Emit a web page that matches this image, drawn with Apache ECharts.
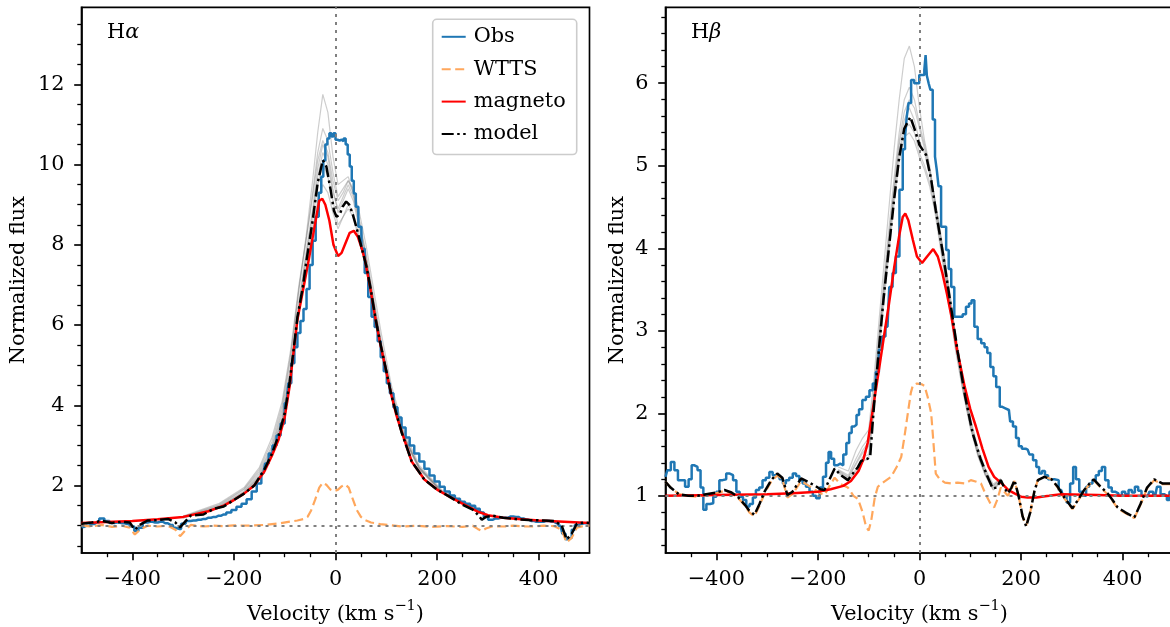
<!DOCTYPE html>
<html><head><meta charset="utf-8">
<script src="https://cdn.jsdelivr.net/npm/echarts@6/dist/echarts.min.js"></script>
<style>html,body{margin:0;padding:0;background:#fff}#c{width:1170px;height:627px}</style>
</head><body><div id="c"></div>
<script>
// ---------- DATA ----------
const seriesNames = ['Obs', 'WTTS', 'magneto', 'model'];
const panelTitles = ['α', 'β'];
const xTicks = [-400, -200, 0, 200, 400];
const yTicksHa = [2, 4, 6, 8, 10, 12];
const yTicksHb = [1, 2, 3, 4, 5, 6];
const refLevel = 1;
const refVel = 0;

// H-alpha
const haObs = [[-500,0.97],[-490,1.0],[-480,1.04],[-470,1.08],[-460,1.18],[-450,1.12],[-440,1.07],[-430,1.08],[-420,1.06],[-410,1.04],[-400,0.98],[-392,0.87],[-384,0.95],[-375,1.08],[-365,1.1],[-355,1.08],[-345,1.1],[-335,1.06],[-325,1.02],[-315,0.95],[-308,0.92],[-300,1.05],[-290,1.12],[-280,1.13],[-270,1.15],[-260,1.17],[-250,1.2],[-240,1.22],[-230,1.25],[-220,1.28],[-210,1.33],[-200,1.39],[-190,1.47],[-180,1.55],[-170,1.66],[-160,1.85],[-150,2.05],[-142,2.3],[-135,2.55],[-128,2.8],[-120,3.0],[-112,3.25],[-104,3.55],[-96,4.05],[-90,4.55],[-84,5.05],[-78,5.45],[-72,5.8],[-66,6.1],[-60,6.4],[-54,6.9],[-48,7.5],[-42,8.1],[-36,8.7],[-30,9.3],[-26,9.7],[-22,10.1],[-18,10.5],[-14,10.65],[-10,10.78],[-6,10.7],[-2,10.78],[2,10.62],[6,10.6],[10,10.62],[14,10.58],[18,10.65],[22,10.5],[26,10.25],[30,9.95],[34,9.6],[38,9.28],[42,8.95],[48,8.45],[54,7.9],[61,7.3],[68,6.7],[74,6.21],[80,5.95],[86,5.6],[92,5.2],[98,4.85],[104,4.55],[110,4.3],[118,3.95],[126,3.7],[134,3.45],[142,3.2],[150,3.0],[160,2.8],[170,2.6],[180,2.42],[190,2.25],[200,2.1],[210,1.97],[220,1.85],[230,1.75],[240,1.67],[250,1.6],[260,1.55],[270,1.5],[280,1.42],[288,1.33],[296,1.22],[305,1.15],[315,1.18],[325,1.2],[335,1.2],[345,1.23],[355,1.22],[365,1.18],[375,1.15],[385,1.12],[395,1.1],[405,1.1],[415,1.12],[425,1.1],[435,1.06],[443,1.0],[450,0.8],[456,0.66],[462,0.7],[468,0.9],[474,1.02],[482,1.05],[490,1.06],[500,1.05]];
const haWtts = [[-500,1.0],[-480,0.98],[-460,1.02],[-440,0.97],[-420,1.0],[-405,0.95],[-395,0.78],[-385,0.9],[-370,1.0],[-350,0.98],[-330,1.0],[-315,0.9],[-306,0.74],[-296,0.88],[-285,1.02],[-260,0.98],[-240,1.0],[-220,0.99],[-200,1.01],[-170,1.0],[-140,1.02],[-110,1.06],[-90,1.1],[-75,1.13],[-62,1.17],[-55,1.22],[-48,1.38],[-40,1.65],[-32,1.95],[-25,2.07],[-18,2.02],[-10,1.9],[-3,1.86],[5,1.9],[12,1.98],[19,2.03],[26,1.95],[33,1.7],[42,1.39],[50,1.22],[58,1.14],[70,1.08],[88,1.04],[110,1.01],[130,0.98],[160,1.0],[190,0.97],[220,0.99],[250,0.97],[270,1.0],[280,0.92],[288,0.87],[296,0.93],[310,0.99],[330,0.98],[350,1.0],[380,0.98],[410,1.0],[430,0.99],[445,0.9],[455,0.58],[465,0.7],[475,0.95],[490,1.0],[500,1.0]];
const haMagneto = [[-500,1.07],[-450,1.09],[-400,1.12],[-350,1.16],[-300,1.22],[-250,1.36],[-220,1.5],[-200,1.64],[-180,1.8],[-160,2.0],[-140,2.35],[-125,2.75],[-112,3.15],[-100,3.7],[-90,4.5],[-86,4.96],[-80,5.6],[-75,6.13],[-65,6.8],[-53,7.6],[-42,8.4],[-32,9.1],[-26,9.15],[-20,9.0],[-12,8.6],[-4,8.0],[5,7.72],[12,7.8],[20,8.05],[28,8.3],[36,8.35],[44,8.2],[52,7.9],[58,7.62],[68,6.95],[78,6.2],[87,5.6],[95,5.13],[110,4.25],[120,3.75],[130,3.35],[150,2.6],[175,2.15],[200,1.9],[225,1.72],[250,1.55],[280,1.35],[300,1.26],[330,1.2],[360,1.17],[400,1.13],[450,1.1],[500,1.07]];
const haModel = [[-500,1.05],[-480,1.08],[-460,1.12],[-440,1.07],[-420,1.1],[-405,1.08],[-395,0.9],[-385,1.02],[-370,1.13],[-350,1.14],[-330,1.17],[-315,1.08],[-306,0.96],[-296,1.1],[-285,1.25],[-260,1.28],[-240,1.42],[-220,1.48],[-200,1.64],[-180,1.8],[-160,2.0],[-140,2.4],[-125,2.8],[-112,3.25],[-100,3.8],[-90,4.6],[-80,5.65],[-75,6.2],[-65,6.9],[-57,7.62],[-45,8.6],[-35,9.55],[-25,10.11],[-18,9.95],[-10,9.4],[-3,8.85],[2,8.7],[8,8.75],[14,8.95],[21,9.08],[27,9.0],[33,8.8],[42,8.4],[50,8.0],[61,7.46],[70,6.85],[78,6.22],[87,5.62],[95,5.15],[110,4.25],[130,3.33],[150,2.6],[175,2.15],[200,1.9],[225,1.72],[250,1.52],[270,1.4],[280,1.28],[288,1.15],[296,1.22],[310,1.25],[330,1.2],[350,1.17],[380,1.14],[410,1.13],[430,1.12],[445,1.01],[455,0.66],[465,0.8],[475,1.05],[490,1.08],[500,1.07]];
const haGridVel = [-300,-230,-180,-150,-125,-105,-88,-72,-57,-45,-35,-25,-15,-5,5,15,25,35,47,60,75,90,110,135,165,210,300];
const haSamples = [
  [1.22,1.5,1.9,2.35,3.0,3.9,5.2,6.9,8.3,9.6,10.8,11.75,11.3,10.2,9.5,9.6,9.7,9.3,8.6,7.8,6.7,5.6,4.4,3.25,2.45,1.85,1.25],
  [1.23,1.52,1.92,2.4,3.1,4.0,5.3,6.9,8.2,9.3,10.3,10.9,10.6,9.8,9.2,9.4,9.6,9.3,8.6,7.7,6.6,5.5,4.35,3.2,2.45,1.85,1.25],
  [1.21,1.48,1.86,2.3,2.95,3.8,5.0,6.6,7.9,8.9,9.9,10.5,10.2,9.4,8.8,9.1,9.4,9.1,8.4,7.6,6.5,5.5,4.3,3.2,2.42,1.84,1.25],
  [1.2,1.46,1.84,2.25,2.9,3.7,4.9,6.5,7.8,8.8,9.7,10.3,10.0,9.3,8.9,9.2,9.5,9.2,8.5,7.7,6.6,5.55,4.35,3.25,2.45,1.85,1.26],
  [1.2,1.45,1.82,2.22,2.85,3.65,4.85,6.4,7.7,8.6,9.5,10.0,9.7,9.1,8.5,8.7,8.9,8.7,8.1,7.4,6.4,5.4,4.25,3.15,2.4,1.82,1.25],
  [1.19,1.44,1.8,2.2,2.8,3.6,4.8,6.3,7.5,8.4,9.1,9.5,9.3,8.8,8.4,8.7,9.0,8.8,8.2,7.5,6.5,5.5,4.3,3.2,2.42,1.83,1.25],
  [1.24,1.55,1.95,2.45,3.2,4.1,5.4,7.0,8.2,9.2,10.1,10.6,10.3,9.6,9.1,9.3,9.6,9.4,8.8,8.0,6.9,5.8,4.5,3.35,2.5,1.88,1.27]
];

// H-beta
const hbObs = [[-500,1.23],[-493,1.31],[-486,1.41],[-479,1.31],[-472,1.19],[-465,1.19],[-458,1.11],[-451,1.2],[-446,1.37],[-440,1.35],[-434,1.31],[-428,1.1],[-423,0.83],[-416,0.9],[-409,0.91],[-403,0.99],[-397,1.05],[-391,1.19],[-384,1.2],[-377,1.27],[-370,1.25],[-364,1.19],[-357,1.05],[-351,0.99],[-344,0.95],[-338,0.87],[-331,0.9],[-325,0.98],[-319,1.07],[-312,1.1],[-306,1.19],[-299,1.22],[-292,1.29],[-286,1.25],[-279,1.23],[-272,1.2],[-266,1.15],[-260,1.19],[-253,1.22],[-246,1.27],[-240,1.24],[-233,1.19],[-227,1.15],[-220,1.11],[-213,1.05],[-207,1.0],[-200,0.97],[-193,1.1],[-187,1.23],[-181,1.4],[-177,1.53],[-171,1.45],[-165,1.37],[-159,1.39],[-153,1.37],[-147,1.5],[-141,1.64],[-136,1.76],[-131,1.84],[-126,1.86],[-122,1.98],[-116,2.05],[-109,2.16],[-102,2.2],[-95,2.28],[-89,2.36],[-83,2.5],[-77,2.77],[-71,2.93],[-63,3.05],[-56,3.53],[-50,3.7],[-43,3.9],[-36,4.71],[-30,5.2],[-27,5.35],[-23,5.6],[-20,5.76],[-13,6.04],[-8,6.0],[-4,6.0],[3,6.1],[8,6.1],[11,6.16],[13,6.34],[16,6.09],[20,6.0],[23,5.92],[29,5.56],[32,5.11],[36,4.95],[39,4.75],[46,4.26],[50,4.26],[55,3.98],[60,3.75],[65,3.53],[72,3.17],[78,3.17],[82,3.17],[88,3.2],[95,3.29],[100,3.33],[105,3.37],[111,3.05],[118,2.9],[125,2.85],[131,2.8],[136,2.73],[143,2.56],[148,2.45],[154,2.32],[162,2.08],[169,2.06],[176,2.04],[181,1.9],[187,1.84],[193,1.7],[198,1.6],[205,1.57],[213,1.56],[220,1.5],[227,1.43],[233,1.35],[238,1.27],[244,1.3],[250,1.25],[256,1.2],[262,1.2],[269,1.19],[279,1.07],[286,1.0],[293,0.92],[300,1.15],[305,1.35],[311,1.2],[318,1.05],[325,1.0],[331,1.11],[337,1.15],[344,1.19],[350,1.25],[356,1.3],[362,1.35],[369,1.19],[375,1.1],[382,1.05],[388,1.03],[395,1.0],[402,1.05],[408,1.02],[415,1.07],[421,1.04],[427,1.11],[434,1.06],[440,1.0],[449,0.99],[456,1.05],[464,1.0],[471,1.11],[478,1.02],[485,1.0],[489,0.95],[495,1.05],[500,1.02]];
const hbWtts = [[-500,1.17],[-490,1.1],[-474,1.02],[-455,1.0],[-437,0.99],[-420,1.01],[-400,1.03],[-384,1.06],[-370,1.03],[-358,0.98],[-345,0.89],[-335,0.8],[-325,0.75],[-315,0.88],[-305,1.03],[-292,1.17],[-280,1.25],[-270,1.2],[-260,0.98],[-250,1.02],[-233,1.18],[-220,1.13],[-205,1.07],[-195,1.03],[-187,1.01],[-177,1.12],[-167,1.22],[-155,1.14],[-141,1.1],[-130,1.0],[-121,0.96],[-112,0.8],[-105,0.62],[-100,0.58],[-95,0.7],[-88,0.98],[-82,1.11],[-70,1.17],[-56,1.23],[-45,1.35],[-36,1.47],[-30,1.7],[-23,2.0],[-17,2.25],[-13,2.34],[-5,2.36],[5,2.35],[10,2.33],[16,2.2],[23,2.0],[28,1.6],[32,1.27],[40,1.2],[50,1.16],[62,1.15],[75,1.16],[90,1.15],[101,1.19],[112,1.17],[121,1.15],[130,1.02],[140,0.9],[147,0.86],[153,0.95],[160,1.1],[167,1.05],[174,1.0],[181,1.08],[187,1.18],[195,1.0],[203,0.75],[210,0.64],[218,0.8],[226,1.05],[233,1.19],[246,1.23],[260,1.2],[272,1.1],[285,0.97],[301,0.84],[312,0.94],[324,1.06],[335,1.14],[343,1.19],[355,1.11],[370,1.02],[380,0.94],[390,0.85],[405,0.79],[423,0.73],[435,0.89],[448,1.09],[462,1.19],[478,1.14],[495,1.14],[500,1.13]];
const hbMagneto = [[-500,1.0],[-400,1.01],[-300,1.02],[-250,1.03],[-200,1.05],[-175,1.08],[-150,1.12],[-135,1.18],[-120,1.3],[-110,1.45],[-102,1.64],[-90,2.12],[-80,2.52],[-70,2.93],[-60,3.33],[-50,3.76],[-40,4.15],[-33,4.38],[-28,4.42],[-22,4.34],[-13,4.1],[-5,3.9],[5,3.82],[15,3.9],[27,3.99],[36,3.9],[45,3.7],[54,3.45],[63,3.17],[74,2.77],[89,2.32],[100,2.05],[111,1.84],[124,1.57],[136,1.35],[147,1.23],[162,1.15],[175,1.07],[187,1.03],[200,0.99],[213,0.98],[230,0.98],[255,1.0],[279,1.02],[350,1.01],[400,1.0],[500,1.0]];
const hbModel = [[-500,1.17],[-490,1.1],[-474,1.02],[-455,1.0],[-437,1.0],[-420,1.02],[-400,1.04],[-384,1.07],[-370,1.04],[-358,0.99],[-345,0.9],[-335,0.82],[-325,0.77],[-315,0.9],[-305,1.05],[-292,1.19],[-280,1.27],[-270,1.22],[-260,1.01],[-250,1.05],[-233,1.21],[-220,1.17],[-205,1.12],[-195,1.08],[-187,1.07],[-177,1.2],[-167,1.33],[-155,1.25],[-141,1.19],[-130,1.28],[-121,1.35],[-115,1.42],[-108,1.44],[-102,1.45],[-97,1.48],[-92,1.9],[-86,2.36],[-78,2.9],[-71,3.37],[-62,3.9],[-50,4.59],[-40,5.1],[-30,5.45],[-18,5.59],[-10,5.45],[0,5.25],[13,5.13],[23,4.83],[32,4.46],[46,3.94],[62,3.29],[75,2.75],[90,2.2],[105,1.75],[120,1.45],[134,1.23],[144,1.09],[152,1.1],[160,1.19],[167,1.1],[174,1.03],[181,1.1],[187,1.19],[195,1.0],[203,0.75],[210,0.63],[218,0.8],[226,1.05],[233,1.19],[246,1.23],[260,1.2],[272,1.11],[285,0.98],[301,0.85],[312,0.95],[324,1.07],[335,1.15],[343,1.2],[355,1.12],[370,1.03],[380,0.95],[390,0.86],[405,0.8],[423,0.74],[435,0.9],[448,1.1],[462,1.2],[478,1.15],[495,1.15],[500,1.14]];
const hbGridVel = [-160,-140,-125,-112,-100,-90,-80,-70,-60,-50,-40,-30,-20,-10,0,10,20,30,40,50,60,70,85,100,115,130,145,160];
const hbSamples = [
  [1.35,1.3,1.55,1.7,1.8,2.4,3.1,3.8,4.5,5.2,5.8,6.3,6.45,6.2,5.7,5.3,5.0,4.6,4.2,3.8,3.35,2.9,2.35,1.85,1.5,1.25,1.12,1.2],
  [1.32,1.25,1.45,1.6,1.7,2.25,2.95,3.6,4.25,4.85,5.4,5.8,5.95,5.8,5.5,5.25,4.95,4.6,4.2,3.85,3.4,2.95,2.4,1.92,1.55,1.3,1.12,1.2],
  [1.3,1.22,1.38,1.52,1.6,2.15,2.85,3.5,4.1,4.7,5.25,5.55,5.7,5.55,5.3,5.15,4.9,4.55,4.15,3.75,3.3,2.85,2.35,1.88,1.52,1.27,1.1,1.18],
  [1.29,1.2,1.32,1.47,1.5,2.1,2.8,3.45,4.05,4.65,5.15,5.45,5.5,5.4,5.15,5.0,4.8,4.5,4.1,3.7,3.3,2.85,2.3,1.85,1.5,1.25,1.08,1.17],
  [1.31,1.23,1.4,1.55,1.65,2.2,2.9,3.55,4.15,4.75,5.3,5.65,5.8,5.7,5.45,5.2,4.95,4.6,4.25,3.85,3.45,3.0,2.45,1.95,1.58,1.32,1.14,1.21],
  [1.28,1.18,1.3,1.42,1.45,2.0,2.7,3.35,3.95,4.55,5.05,5.35,5.4,5.3,5.1,4.95,4.75,4.45,4.05,3.65,3.25,2.8,2.28,1.82,1.48,1.24,1.07,1.16]
];

// ---------- CHART ----------
const FONT = "'DejaVu Serif', 'Liberation Serif', serif";
const FS = 20.8;
const AX = 1.66;
const LW = 2.5;
const chart = echarts.init(document.getElementById('c'), null, {renderer: 'canvas'});
const fmt = v => String(v).replace('-', '\u2212');

const panels = [
  {left: 81.5, yMin: 0.32, yMax: 13.92, yStep: 2, yMinor: 4, yTicks: yTicksHa, yNameGap: 52,
   obs: haObs, wtts: haWtts, mag: haMagneto, model: haModel, gv: haGridVel, samples: haSamples},
  {left: 665.5, yMin: 0.307, yMax: 6.92, yStep: 1, yMinor: 5, yTicks: yTicksHb, yNameGap: 37,
   obs: hbObs, wtts: hbWtts, mag: hbMagneto, model: hbModel, gv: hbGridVel, samples: hbSamples}
];

const grids = [], xAxes = [], yAxes = [], series = [], titles = [];
panels.forEach((p, i) => {
  grids.push({left: p.left, top: 7.3, width: 508, height: 545.7, show: true,
    containLabel: false, outerBoundsMode: 'none',
    borderColor: '#000', borderWidth: AX, backgroundColor: 'transparent'});
  xAxes.push({gridIndex: i, type: 'value', min: -500, max: 500, minInterval: 200, maxInterval: 200,
    axisLine: {onZero: false, lineStyle: {color: '#000', width: AX}},
    axisTick: {customValues: xTicks, length: 7.3, lineStyle: {color: '#000', width: AX}},
    minorTick: {show: true, splitNumber: 4, length: 4.2, lineStyle: {color: '#000', width: 1.3}},
    axisLabel: {customValues: xTicks, formatter: fmt, color: '#000', fontFamily: FONT, fontSize: FS, margin: 16},
    splitLine: {show: false}, minorSplitLine: {show: false},
    name: '{n|Velocity (km s}{s|\u22121}{n|)}', nameLocation: 'middle', nameGap: 46,
    nameTextStyle: {color: '#000', fontFamily: FONT, fontSize: FS,
      rich: {n: {fontFamily: FONT, fontSize: FS, color: '#000', lineHeight: 26, verticalAlign: 'bottom'},
             s: {fontFamily: FONT, fontSize: 14.5, color: '#000', lineHeight: 15, verticalAlign: 'top'}}}});
  yAxes.push({gridIndex: i, type: 'value', min: p.yMin, max: p.yMax, minInterval: p.yStep, maxInterval: p.yStep,
    axisLine: {onZero: false, lineStyle: {color: '#000', width: AX}},
    axisTick: {customValues: p.yTicks, length: 7.3, lineStyle: {color: '#000', width: AX}},
    minorTick: {show: true, splitNumber: p.yMinor, length: 4.2, lineStyle: {color: '#000', width: 1.3}},
    axisLabel: {customValues: p.yTicks, formatter: fmt, color: '#000', fontFamily: FONT, fontSize: FS, margin: 17},
    splitLine: {show: false}, minorSplitLine: {show: false},
    name: 'Normalized flux', nameLocation: 'middle', nameGap: p.yNameGap,
    nameTextStyle: {color: '#000', fontFamily: FONT, fontSize: FS}});
  titles.push({text: '{h|H}{g|' + panelTitles[i] + '}', left: p.left + 25.5, top: 22, padding: 0,
    textStyle: {fontWeight: 'normal', rich: {h: {fontFamily: FONT, fontSize: FS, fontWeight: 'normal', color: '#000'},
                       g: {fontFamily: FONT, fontSize: FS, fontWeight: 'normal', fontStyle: 'italic', color: '#000'}}}});
  p.samples.forEach(s => {
    series.push({type: 'line', xAxisIndex: i, yAxisIndex: i, symbol: 'none', silent: true, z: 1,
      data: p.gv.map((v, k) => [v, s[k]]),
      lineStyle: {color: 'rgba(130,130,130,0.4)', width: 1.2}});
  });
  series.push({name: 'Obs', type: 'line', xAxisIndex: i, yAxisIndex: i, data: p.obs, step: 'middle', symbol: 'none', z: 2,
    itemStyle: {color: '#1f77b4'}, lineStyle: {color: '#1f77b4', width: LW}});
  series.push({name: 'WTTS', type: 'line', xAxisIndex: i, yAxisIndex: i, data: p.wtts, symbol: 'none', z: 3,
    itemStyle: {color: '#ffa75c'}, lineStyle: {color: '#ffa75c', width: 2.2, type: [9, 4.5]}});
  series.push({name: 'magneto', type: 'line', xAxisIndex: i, yAxisIndex: i, data: p.mag, symbol: 'none', z: 4,
    itemStyle: {color: '#ff0000'}, lineStyle: {color: '#ff0000', width: LW}});
  series.push({name: 'model', type: 'line', xAxisIndex: i, yAxisIndex: i, data: p.model, symbol: 'none', z: 5,
    itemStyle: {color: '#000'}, lineStyle: {color: '#000', width: LW, type: [12, 3.5, 2.5, 3.5]}});
  series.push({type: 'line', xAxisIndex: i, yAxisIndex: i, data: [], symbol: 'none', z: 6, silent: true,
    markLine: {silent: true, symbol: ['none', 'none'], label: {show: false}, animation: false,
      lineStyle: {color: '#808080', width: 2, type: [3, 5]},
      data: [{xAxis: refVel}, {yAxis: refLevel}]}});
});

chart.setOption({
  animation: false,
  backgroundColor: '#fff',
  textStyle: {fontFamily: FONT},
  title: titles,
  grid: grids, xAxis: xAxes, yAxis: yAxes, series: series,
  legend: {data: seriesNames, orient: 'vertical', left: 432.7, top: 19.3,
    itemWidth: 24, itemHeight: 12, itemGap: 11.4, padding: [7, 11, 10, 8],
    backgroundColor: '#fff', borderColor: '#cccccc', borderWidth: 1.6, borderRadius: 4,
    selectedMode: false, itemStyle: {opacity: 0},
    textStyle: {fontFamily: FONT, fontSize: FS, color: '#000', lineHeight: 21, padding: [0, 0, 0, 3]}}
});
</script></body></html>
